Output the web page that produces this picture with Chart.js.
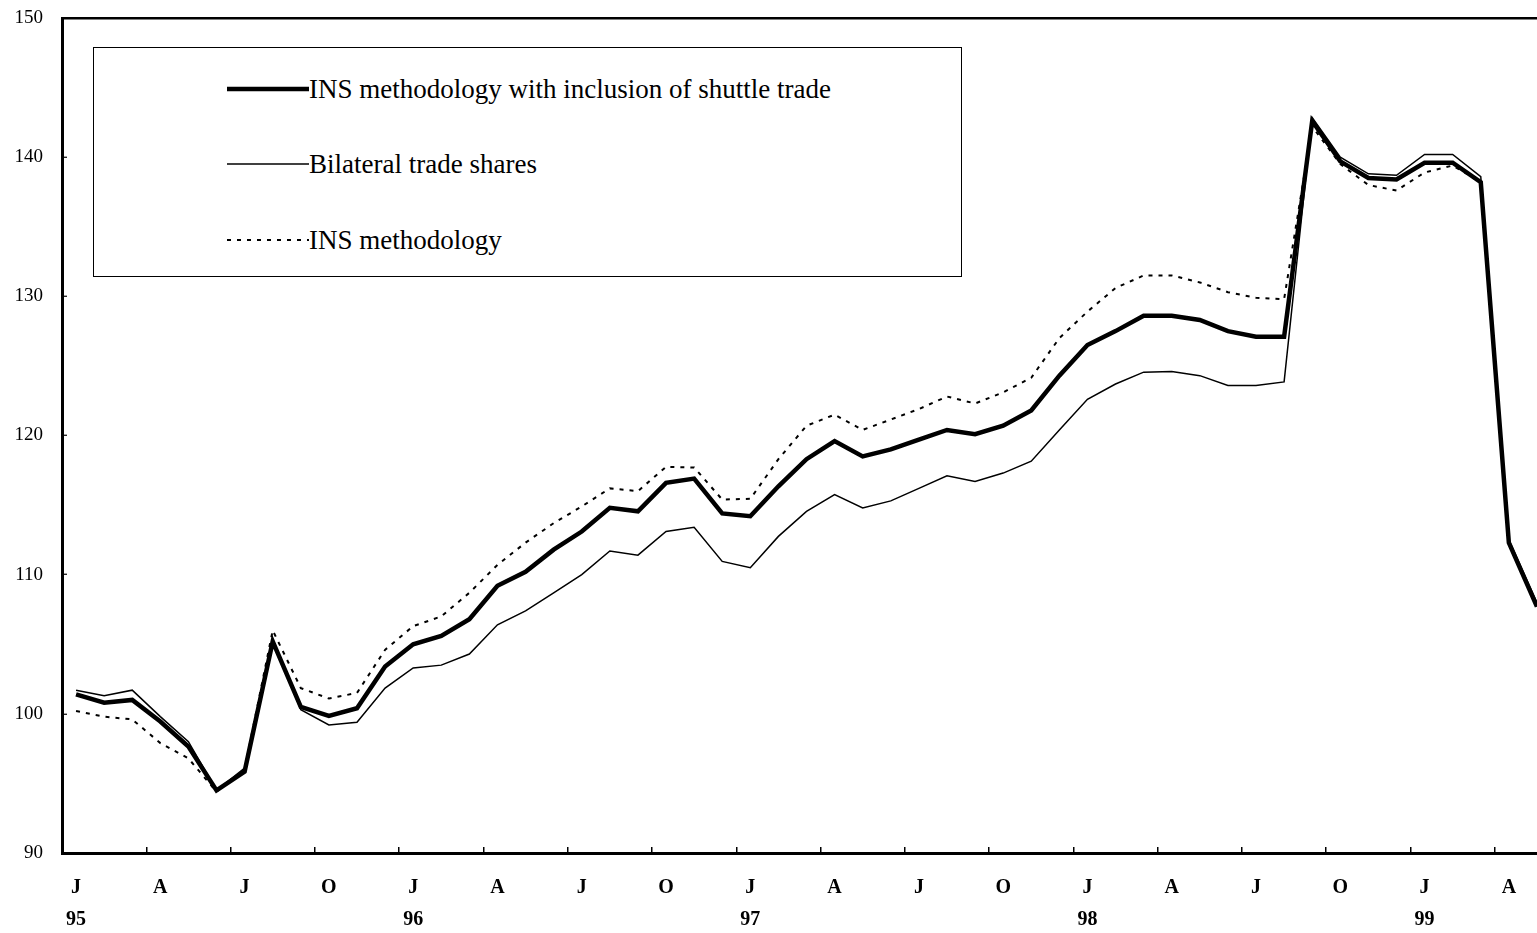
<!DOCTYPE html>
<html>
<head>
<meta charset="utf-8">
<script src="https://cdn.jsdelivr.net/npm/chart.js@4.4.1/dist/chart.umd.min.js"></script>
<style>
  body { margin: 0; background: #fff; overflow: hidden; }
  #wrap { position: relative; width: 1552px; height: 933px; }
  #legend {
    position: absolute; left: 93px; top: 47px; width: 867px; height: 228px;
    border: 1.5px solid #000; background: #fff;
    font-family: "Liberation Serif", "Times New Roman", serif; font-size: 27px; color: #000;
  }
  .row { position: absolute; left: 133px; height: 30px; display: flex; align-items: center; white-space: nowrap; }
  .row svg { display: block; }
</style>
</head>
<body>
<div id="wrap">
  <canvas id="chart"></canvas>
  <div id="legend"></div>
</div>
<script>
// months Jan 1995 .. May 1999
const monthLetters = ['J', 'F', 'M', 'A', 'M', 'J', 'J', 'A', 'S', 'O', 'N', 'D'];
const years = ['95', '96', '97', '98', '99'];
const monthCount = 53;

const seriesNames = [
  'INS methodology with inclusion of shuttle trade',
  'Bilateral trade shares',
  'INS methodology'
];

const shuttleValues = [
  101.4, 100.8, 101.0, 99.45, 97.65, 94.5, 95.85, 105.2, 100.5, 99.85, 100.4, 103.4,
  105.0, 105.6, 106.8, 109.2, 110.2, 111.8, 113.1, 114.8, 114.55, 116.6, 116.9, 114.4,
  114.2, 116.35, 118.3, 119.6, 118.5, 119.0, 119.7, 120.4, 120.1, 120.7, 121.8, 124.3,
  126.5, 127.5, 128.6, 128.6, 128.3, 127.5, 127.1, 127.1, 142.6, 139.7, 138.5, 138.4,
  139.6, 139.6, 138.2, 112.3, 107.7
];

const bilateralValues = [
  101.7, 101.3, 101.7, 99.8, 98.0, 94.5, 96.1, 105.3, 100.3, 99.2, 99.4, 101.85,
  103.3, 103.5, 104.3, 106.4, 107.4, 108.7, 110.0, 111.7, 111.4, 113.1, 113.4, 110.95,
  110.5, 112.75, 114.55, 115.75, 114.8, 115.3, 116.2, 117.1, 116.7, 117.3, 118.15, 120.4,
  122.6, 123.7, 124.55, 124.6, 124.3, 123.6, 123.6, 123.85, 142.85, 140.0, 138.8, 138.7,
  140.2, 140.2, 138.6, 112.5, 108.0
];

const insValues = [
  100.2, 99.8, 99.6, 97.9, 96.8, 94.4, 96.0, 106.0, 101.85, 101.1, 101.5, 104.6,
  106.3, 107.0, 108.7, 110.7, 112.3, 113.7, 114.9, 116.2, 116.0, 117.75, 117.7, 115.4,
  115.45, 118.3, 120.7, 121.5, 120.4, 121.15, 121.9, 122.8, 122.3, 123.1, 124.15, 127.0,
  128.9, 130.6, 131.5, 131.5, 131.0, 130.3, 129.9, 129.8, 142.2, 139.5, 138.0, 137.6,
  138.9, 139.4, 138.2, 112.3, 107.7
];

const yTicks = [90, 100, 110, 120, 130, 140, 150];

// category labels: month letter + year
const categories = [];
for (let i = 0; i < monthCount; i++) {
  categories.push(monthLetters[i % 12] + ' ' + years[Math.floor(i / 12)]);
}

const serif = '"Liberation Serif", "Times New Roman", serif';
const clear = 'rgba(0,0,0,0)';

const chart = new Chart(document.getElementById('chart'), {
  type: 'line',
  data: {
    labels: categories,
    datasets: [
      { label: seriesNames[0], data: shuttleValues, borderColor: '#000', borderWidth: 4.5, borderDash: [] },
      { label: seriesNames[1], data: bilateralValues, borderColor: '#000', borderWidth: 1.5, borderDash: [] },
      { label: seriesNames[2], data: insValues, borderColor: '#000', borderWidth: 2, borderDash: [4, 6] }
    ]
  },
  options: {
    responsive: true,
    maintainAspectRatio: false,
    animation: false,
    elements: { point: { radius: 0 }, line: { tension: 0 } },
    layout: { padding: { top: 18, right: 1, left: 0, bottom: 0 } },
    plugins: { legend: { display: false }, tooltip: { enabled: false } },
    scales: {
      x: {
        offset: true,
        border: { color: '#000', width: 3 },
        grid: {
          offset: true,
          drawOnChartArea: false,
          tickLength: -6, // small marks pointing into the plot
          lineWidth: 1.5,
          color: clear,
          tickColor: ctx => (ctx.index > 0 && ctx.index % 3 === 0) ? '#000' : clear
        },
        ticks: {
          autoSkip: false,
          maxRotation: 0,
          padding: 25,
          color: '#000',
          font: { family: serif, size: 20, weight: 'bold', lineHeight: 1.6 },
          callback: function (val, idx) {
            if (idx % 3 !== 0) return '';
            const letter = monthLetters[idx % 12];
            return idx % 12 === 0 ? [letter, years[idx / 12]] : letter;
          }
        },
        afterFit: scale => { scale.height = 80; scale.paddingLeft = 0; scale.paddingRight = 0; }
      },
      y: {
        min: yTicks[0],
        max: yTicks[yTicks.length - 1],
        border: { color: '#000', width: 3 },
        grid: {
          tickLength: -5,
          lineWidth: 2.5,
          tickWidth: 1.2,
          tickColor: '#000',
          color: ctx => ctx.tick && ctx.tick.value === yTicks[yTicks.length - 1] ? '#000' : clear
        },
        ticks: {
          stepSize: 10,
          padding: 24,
          color: '#000',
          font: { family: serif, size: 19 }
        },
        afterFit: scale => { scale.width = 62; scale.paddingTop = 0; scale.paddingBottom = 0; }
      }
    }
  }
});

// legend box drawn inside the plot like the original
const legend = document.getElementById('legend');
const rowTops = [26, 101, 177];
chart.data.datasets.forEach((ds, i) => {
  const row = document.createElement('div');
  row.className = 'row';
  row.style.top = rowTops[i] + 'px';
  const dash = ds.borderDash.length ? ds.borderDash.join(' ') : 'none';
  row.innerHTML =
    '<svg width="82" height="30"><line x1="0" y1="15" x2="82" y2="15" stroke="#000" stroke-width="' +
    ds.borderWidth + '" stroke-dasharray="' + dash + '"/></svg><span>' + ds.label + '</span>';
  legend.appendChild(row);
});
</script>
</body>
</html>
